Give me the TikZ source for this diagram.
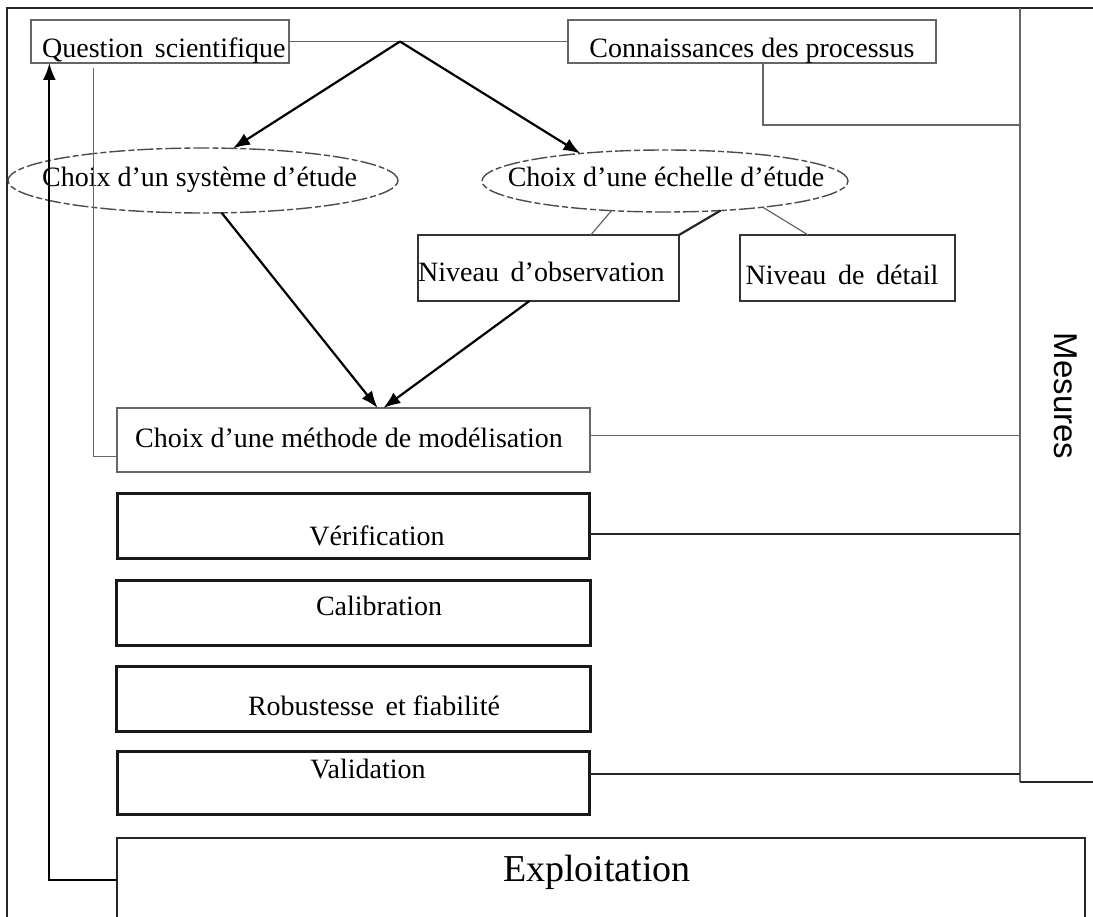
\documentclass[tikz,border=0pt]{standalone}
\usepackage{fontspec}
\setmainfont{Liberation Serif}
\newfontfamily\mesfont{Liberation Sans}
\usetikzlibrary{shapes.geometric,arrows.meta}

\tikzset{
  box/.style={rectangle, draw=black!60, line width=1.2pt, inner sep=0pt, outer sep=0pt},
  boxmid/.style={rectangle, draw=black!80, line width=1.8pt, inner sep=0pt, outer sep=0pt},
  boxthick/.style={rectangle, draw=black!90, line width=3pt, inner sep=0pt, outer sep=0pt},
  oval/.style={ellipse, draw=black!70, line width=1.4pt, dash pattern=on 16pt off 3pt on 6pt off 3pt, inner sep=0pt, outer sep=0pt},
  txt/.style={font=\fontsize{28}{32}\selectfont, inner sep=0pt, anchor=base},
  thin/.style={draw=black!60, line width=1.2pt},
  thickline/.style={draw=black!85, line width=2.2pt},
  fleche/.style={draw=black, line width=2.2pt, -{Latex[length=17pt,width=13pt]}},
}

\begin{document}
\begin{tikzpicture}[x=1pt,y=-1pt]
\useasboundingbox (0,0) rectangle (1093,917);
\clip (0,0) rectangle (1093,917);

% frame and Mesures column
\coordinate (framebl) at (7,917);
\coordinate (frametr) at (1093,8);
\coordinate (mtop) at (1020,8);
\coordinate (mbot) at (1020,782);
\coordinate (mconn) at (1020,125);
\draw[thickline] (framebl) |- (frametr);
\draw[thin] (mtop) -- (mbot);
\draw[thickline] (mbot) -- (mbot -| frametr);
\node[font=\mesfont\fontsize{33}{33}\selectfont, rotate=-90] (mesures) at (1066,396) {Mesures};

% top row
\node[box, minimum width=258, minimum height=43] (question) at (160,41.5) {};
\node[txt, anchor=base west] (questiontxt) at (42,58) {Question\, scientifique};
\node[box, minimum width=368, minimum height=43] (conn) at (752,41.5) {};
\node[txt] (conntxt) at (752,58) {Connaissances des processus};
\coordinate (apex) at (400,41.5);
\draw[thin] (question.east) -- (conn.west);
\draw[thin] (conn.297) |- (mconn);

% choices
\node[oval, minimum width=390, minimum height=65] (sys) at (203,180.5) {};
\node[txt, anchor=base west] (systxt) at (42,187) {Choix d’un système d’étude};
\node[oval, minimum width=366, minimum height=62] (ech) at (665,181) {};
\node[txt] (echtxt) at (666,187) {Choix d’une échelle d’étude};
\draw[fleche] (apex) -- (sys.47);
\draw[fleche] (apex) -- (ech.162);

\node[boxmid, minimum width=261, minimum height=66] (obs) at (548.5,268) {};
\node[txt, anchor=base west] (obstxt) at (418,282) {Niveau\, d’observation};
\node[boxmid, minimum width=215, minimum height=66] (detail) at (847.5,268) {};
\node[txt] (detailtxt) at (842,285) {Niveau\, de\, détail};
\draw[thin] (ech.209.3) -- (obs.38.5);
\draw[thickline] (ech.332.6) -- (obs.north east);
\draw[thin] (ech.345) -- (detail.140.8);

% modelling steps
\node[box, minimum width=473, minimum height=64] (methode) at (353.5,440) {};
\node[txt, anchor=base west] (methodetxt) at (135,447) {Choix d’une méthode de modélisation};
\draw[fleche] (sys.300.5) -- (methode.53.7);
\draw[fleche] (obs.240.7) -- (methode.47.3);
\draw[thin, shorten <=5pt] (question.198.8) |- (methode.184.1);
\draw[thin] (methode.1.2) -- (methode.1.2 -| mtop);

\node[boxthick, minimum width=472, minimum height=65] (verif) at (353,525.5) {};
\node[txt] (veriftxt) at (377,545) {Vérification};
\node[boxthick, minimum width=474, minimum height=65] (calib) at (353,612.5) {};
\node[txt] (calibtxt) at (379,615) {Calibration};
\node[boxthick, minimum width=474, minimum height=65] (robust) at (353,698.5) {};
\node[txt] (robusttxt) at (374,715) {Robustesse\, et fiabilité};
\node[boxthick, minimum width=472, minimum height=63] (valid) at (353,782.5) {};
\node[txt] (validtxt) at (368,778) {Validation};
\draw[thickline] (verif.-2.3) -- (verif.-2.3 -| mtop);
\draw[thickline] (valid.2.5) -- (valid.2.5 -| mtop);

\node[boxmid, draw=black!85, line width=2.2pt, minimum width=968, minimum height=84] (expl) at (601,880) {};
\node[txt, font=\fontsize{38}{42}\selectfont] (expltxt) at (597,881) {Exploitation};
\draw[fleche] (expl.west) -| (question.191.3);

\end{tikzpicture}
\end{document}
